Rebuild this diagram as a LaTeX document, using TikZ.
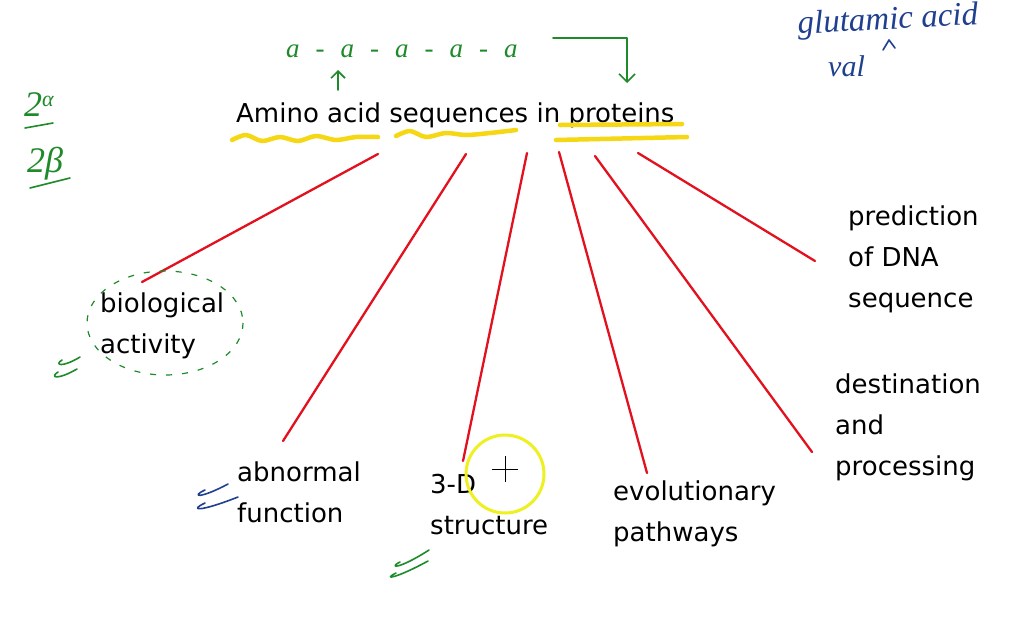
\documentclass[tikz,border=0pt]{standalone}
\usepackage{fontspec}
\setmainfont{DejaVu Sans}
\newfontfamily\handfont{Liberation Serif}
\usetikzlibrary{arrows.meta}
\definecolor{redline}{HTML}{E3101E}
\definecolor{penGreen}{HTML}{1E8A2A}
\definecolor{penBlue}{HTML}{1F3F8F}
\definecolor{hiYellow}{HTML}{F6D714}
\definecolor{cursorYellow}{HTML}{EEF020}
\begin{document}
\begin{tikzpicture}[x=1pt,y=-1pt,
  lbl/.style={anchor=base west, inner sep=0pt, font=\fontsize{26}{41}\selectfont, align=left},
  branch/.style={draw=redline, line width=2.3pt, line cap=round},
  hilite/.style={draw=hiYellow, line width=4.5pt, line cap=round, line join=round},
  greenpen/.style={draw=penGreen, line width=1.6pt, line cap=round, line join=round},
  bluepen/.style={draw=penBlue, line width=1.6pt, line cap=round, line join=round},
  hand/.style={inner sep=0pt, anchor=base west, font=\handfont\itshape}]
\useasboundingbox[fill=white] (0,0) rectangle (1024,630);

% title
\node[lbl] (title) at (236,122) {Amino acid sequences in proteins};

% highlights
\draw[hilite] plot[smooth] coordinates {(232,140) (246,135) (262,141) (280,137) (298,141) (316,136) (336,140) (356,137) (378,137)};
\draw[hilite] plot[smooth] coordinates {(396,136) (410,131) (426,137) (446,133) (466,135) (490,133) (516,130)};
\draw[hilite] (560,125) -- (682,124);
\draw[hilite] (556,140) -- (687,137);

% labels (base anchor = baseline of the last line)
\node[lbl] (bio) at (100,353) {biological\\activity};
\node[lbl] (abn) at (237,522) {abnormal\\function};
\node[lbl] (threeD) at (430,534) {3-D\\structure};
\node[lbl] (evo) at (613,541) {evolutionary\\pathways};
\node[lbl] (pred) at (848,307) {prediction\\of DNA\\sequence};
\node[lbl] (dest) at (835,475) {destination\\and\\processing};

% branch end points
\coordinate (t1) at (378,154); \coordinate (e1) at (142,282);
\coordinate (t2) at (466,154); \coordinate (e2) at (283,441);
\coordinate (t3) at (527,153); \coordinate (e3) at (463,461);
\coordinate (t4) at (559,152); \coordinate (e4) at (647,473);
\coordinate (t5) at (595,156); \coordinate (e5) at (812,452);
\coordinate (t6) at (638,153); \coordinate (e6) at (815,261);
\draw[branch] (t1) -- (e1);
\draw[branch] (t2) -- (e2);
\draw[branch] (t3) -- (e3);
\draw[branch] (t4) -- (e4);
\draw[branch] (t5) -- (e5);
\draw[branch] (t6) -- (e6);

% green chain and arrows
\node[hand, text=penGreen, font=\handfont\itshape\fontsize{27}{27}\selectfont] (chain) at (286,57)
  {a\hspace{16pt}-\hspace{16pt}a\hspace{16pt}-\hspace{16pt}a\hspace{16pt}-\hspace{16pt}a\hspace{16pt}-\hspace{16pt}a};
\coordinate (upS) at (338,90); \coordinate (upE) at (338,70);
\draw[greenpen, -{Straight Barb[length=7pt,width=14pt]}] (upS) -- (upE);
\coordinate (bS) at (553,38); \coordinate (bE) at (627,83);
\draw[greenpen, -{Straight Barb[length=8pt,width=16pt]}] (bS) -| (bE);

% green 2alpha 2beta
\node[hand, text=penGreen, font=\handfont\itshape\fontsize{36}{36}\selectfont] (twoa) at (24,116)
  {2\raisebox{10pt}{\fontsize{22}{22}\selectfont α}};
\node[hand, text=penGreen, font=\handfont\itshape\fontsize{36}{36}\selectfont] (twob) at (27,172) {2β};
\coordinate (ua1) at (25,128); \coordinate (ua2) at (53,123);
\draw[greenpen] (ua1) -- (ua2);
\coordinate (ub1) at (30,188); \coordinate (ub2) at (70,178);
\draw[greenpen] (ub1) -- (ub2);

% blue notes
\node[hand, text=penBlue, rotate=3, font=\handfont\itshape\fontsize{33}{33}\selectfont] (glu) at (798,34) {glutamic acid};
\node[hand, text=penBlue, font=\handfont\itshape\fontsize{30}{30}\selectfont] (val) at (828,76) {val};
\draw[bluepen] (883,50) -- (889,40) -- (895,48);

% dashed ellipse around biological activity
\draw[penGreen, line width=1.2pt, dash pattern=on 6pt off 10pt] (165,323) ellipse [x radius=78, y radius=52];

% tick scribbles
\draw[greenpen] (62,360) .. controls (54,365) and (62,368) .. (80,357);
\draw[greenpen] (58,372) .. controls (49,378) and (58,380) .. (77,369);
\draw[bluepen] (205,490) .. controls (190,497) and (200,499) .. (228,484);
\draw[bluepen] (205,503) .. controls (188,511) and (200,512) .. (238,497);
\draw[greenpen] (400,562) .. controls (388,568) and (398,570) .. (429,550);
\draw[greenpen] (396,573) .. controls (382,580) and (395,579) .. (428,561);

% cursor
\draw[cursorYellow, line width=3pt] (505,474) circle (39);
\draw[black, line width=1pt] (492,469) -- (518,469) (505,456) -- (505,482);
\end{tikzpicture}
\end{document}
